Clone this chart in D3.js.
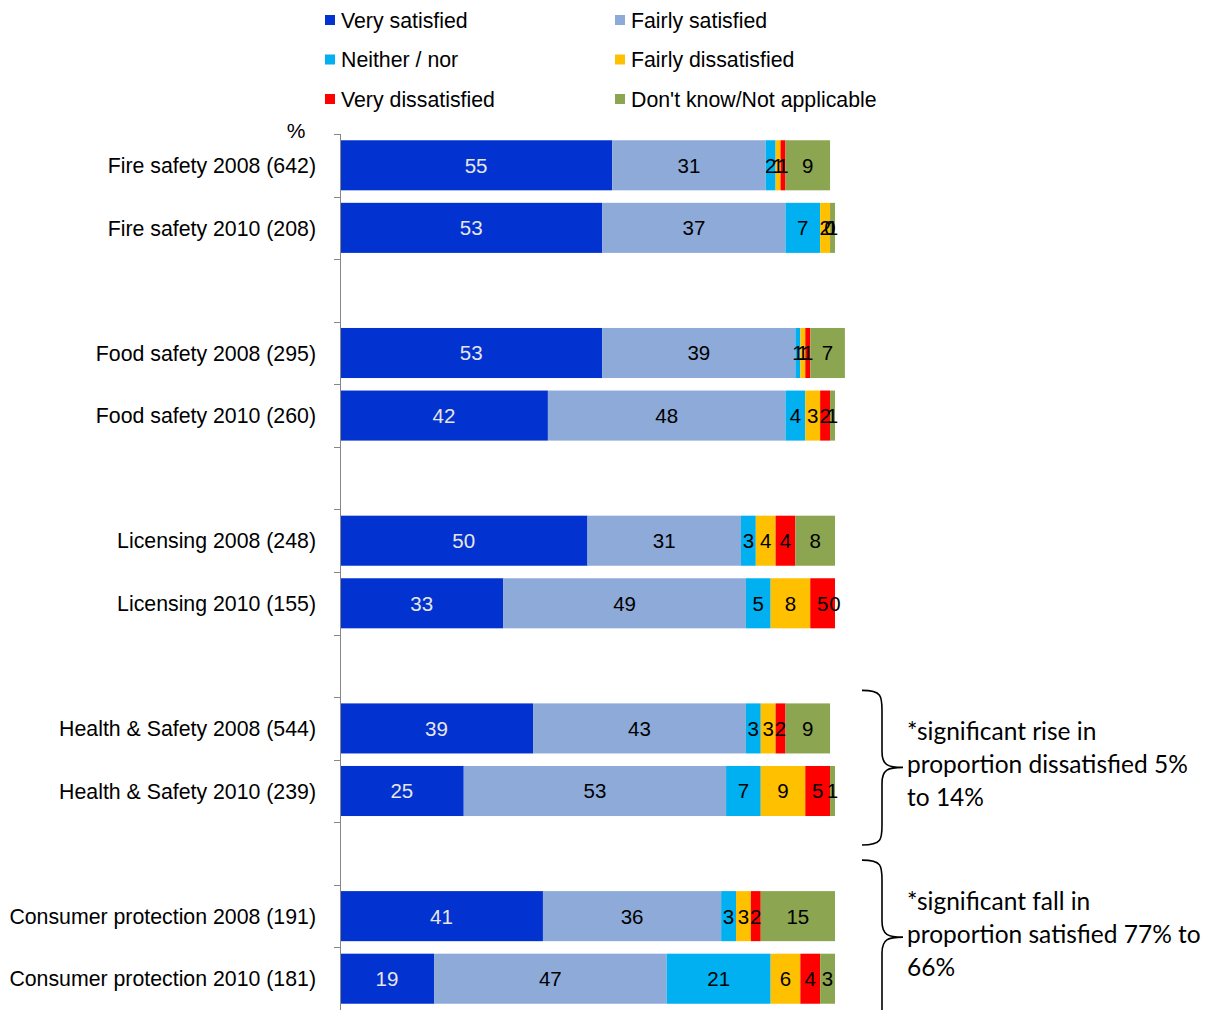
<!DOCTYPE html>
<html>
<head>
<meta charset="utf-8">
<script src="https://cdn.jsdelivr.net/npm/d3@7"></script>
<style>
  body { margin: 0; background: #fff; }
  svg { display: block; }
</style>
</head>
<body>
<svg id="chart" width="1217" height="1010"></svg>
<script>
// Rows of the chart; empty strings are spacer rows between service groups
const categories = [
  "Fire safety 2008 (642)", "Fire safety 2010 (208)", "",
  "Food safety 2008 (295)", "Food safety 2010 (260)", "",
  "Licensing 2008 (248)", "Licensing 2010 (155)", "",
  "Health & Safety 2008 (544)", "Health & Safety 2010 (239)", "",
  "Consumer protection 2008 (191)", "Consumer protection 2010 (181)"
];

const seriesNames = [
  "Very satisfied", "Fairly satisfied", "Neither / nor",
  "Fairly dissatisfied", "Very dissatisfied", "Don't know/Not applicable"
];

// Percentages per row (null for spacer rows)
const verySatisfied      = [55, 53, null, 53, 42, null, 50, 33, null, 39, 25, null, 41, 19];
const fairlySatisfied    = [31, 37, null, 39, 48, null, 31, 49, null, 43, 53, null, 36, 47];
const neitherNor         = [2, 7, null, 1, 4, null, 3, 5, null, 3, 7, null, 3, 21];
const fairlyDissatisfied = [1, 2, null, 1, 3, null, 4, 8, null, 3, 9, null, 3, 6];
const veryDissatisfied   = [1, 0, null, 1, 2, null, 4, 5, null, 2, 5, null, 2, 4];
const dontKnow           = [9, 1, null, 7, 1, null, 8, 0, null, 9, 1, null, 15, 3];

const seriesValues = [verySatisfied, fairlySatisfied, neitherNor, fairlyDissatisfied, veryDissatisfied, dontKnow];
const colors = ["#0232CF", "#8DAAD8", "#00B0F0", "#FFC000", "#FF0000", "#8CA550"];
const labelColors = ["#E6E6E6", "#000", "#000", "#000", "#000", "#000"];

const notes = [
  { from: 9, to: 10, lines: ["*significant rise in", "proportion dissatisfied 5%", "to 14%"] },
  { from: 12, to: 13, lines: ["*significant fall in", "proportion satisfied 77% to", "66%"] }
];

const svg = d3.select("#chart");
const x = d3.scaleLinear().domain([0, 100]).range([340, 835]);
const y = d3.scaleBand().domain(d3.range(categories.length)).range([134, 1010])
  .paddingInner(0.2).paddingOuter(0.1);

const font = "Liberation Sans, Arial, sans-serif";

// Build stacked rows
const rows = categories.map((c, i) => {
  let acc = 0;
  const segs = [];
  if (c === "") return segs;
  seriesValues.forEach((vals, s) => {
    const v = vals[i];
    segs.push({ row: i, s, v, x0: acc, x1: acc + v });
    acc += v;
  });
  return segs;
});

const segs = rows.flat();

svg.append("g").selectAll("rect").data(segs).join("rect")
  .attr("x", d => x(d.x0))
  .attr("y", d => y(d.row))
  .attr("width", d => x(d.x1) - x(d.x0))
  .attr("height", y.bandwidth())
  .attr("fill", d => colors[d.s]);

svg.append("g").selectAll("text").data(segs).join("text")
  .attr("x", d => (x(d.x0) + x(d.x1)) / 2)
  .attr("y", d => y(d.row) + y.bandwidth() / 2)
  .attr("dy", "0.36em")
  .attr("text-anchor", "middle")
  .attr("font-family", font)
  .attr("font-size", 20.5)
  .attr("fill", d => labelColors[d.s])
  .text(d => d.v);

// Vertical axis with tick marks at row boundaries
const axisG = svg.append("g").attr("stroke", "#878787").attr("stroke-width", 1);
const step = y.step();
const axisTop = y.range()[0];
axisG.append("line").attr("x1", 340.5).attr("x2", 340.5).attr("y1", axisTop).attr("y2", 1010);
axisG.selectAll("line.tick").data(d3.range(categories.length + 1)).join("line")
  .attr("class", "tick")
  .attr("x1", 334).attr("x2", 340.5)
  .attr("y1", i => Math.round(axisTop + i * step) + 0.5)
  .attr("y2", i => Math.round(axisTop + i * step) + 0.5);

// Category labels
svg.append("g").selectAll("text").data(categories.map((c, i) => ({ c, i })).filter(d => d.c !== ""))
  .join("text")
  .attr("x", 316)
  .attr("y", d => y(d.i) + y.bandwidth() / 2)
  .attr("dy", "0.36em")
  .attr("text-anchor", "end")
  .attr("font-family", font)
  .attr("font-size", 21.3)
  .attr("fill", "#000")
  .text(d => d.c);

svg.append("text").attr("x", 296).attr("y", 138).attr("text-anchor", "middle")
  .attr("font-family", font).attr("font-size", 21).text("%");

// Legend: two columns, three rows
const legend = svg.append("g").selectAll("g").data(seriesNames).join("g")
  .attr("transform", (d, i) => `translate(${i % 2 === 0 ? 325 : 615},${20 + Math.floor(i / 2) * 39.5})`);
legend.append("rect").attr("x", 0).attr("y", -5).attr("width", 10).attr("height", 10)
  .attr("fill", (d, i) => colors[i]);
legend.append("text").attr("x", 16).attr("y", 0).attr("dy", "0.36em")
  .attr("font-family", font).attr("font-size", 21.3)
  .text(d => d);

// Braces and notes at the right
const braceSpan = [[-13, 29], [-31, 50]];
notes.forEach((n, k) => {
  const y0 = y(n.from) + braceSpan[k][0];
  const y1 = y(n.to) + y.bandwidth() + braceSpan[k][1];
  const ym = y(n.from) + braceSpan[k][0] + 77;
  const xl = 862, xr = 882, xt = 903;
  const p = d3.path();
  p.moveTo(xl, y0);
  p.bezierCurveTo(xr, y0, xr, y0 + 6, xr, y0 + 20);
  p.lineTo(xr, ym - 16);
  p.bezierCurveTo(xr, ym - 2, xr + 6, ym, xt, ym);
  p.bezierCurveTo(xr + 6, ym, xr, ym + 2, xr, ym + 16);
  p.lineTo(xr, y1 - 20);
  p.bezierCurveTo(xr, y1 - 6, xr, y1, xl, y1);
  svg.append("path").attr("d", p.toString()).attr("fill", "none")
    .attr("stroke", "#000").attr("stroke-width", 1.6);
  svg.append("g").selectAll("text").data(n.lines).join("text")
    .attr("x", 907)
    .attr("y", (d, i) => ym - 36 + i * 33)
    .attr("dy", "0.36em")
    .attr("font-family", "Lato, sans-serif")
    .attr("font-size", 24.5)
    .attr("fill", "#000")
    .text(d => d);
});
</script>
</body>
</html>
